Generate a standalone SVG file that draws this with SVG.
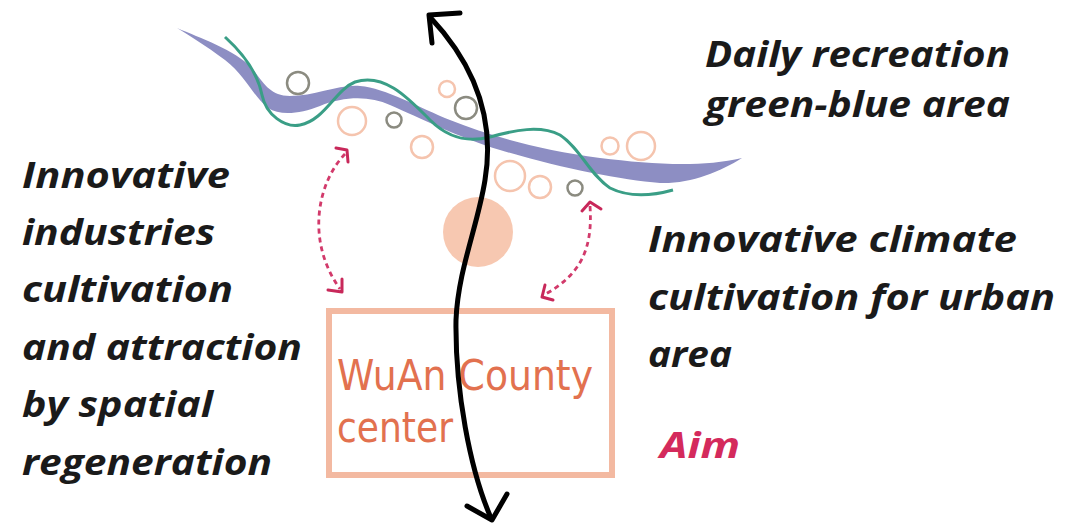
<svg xmlns="http://www.w3.org/2000/svg" width="1081" height="526" viewBox="0 0 1081 526">
<style>
.lbl{font-family:"Open Sans","Liberation Sans",sans-serif;font-style:italic;font-weight:700;font-size:36px;fill:#1a1a1a}
.aim{fill:#d42a5c}
.box{font-family:"DejaVu Sans Condensed","DejaVu Sans","Liberation Sans",sans-serif;font-stretch:condensed;font-size:43px;fill:#e2714f}
.ring-p{fill:none;stroke:#f5c4ae;stroke-width:2.5}
.ring-g{fill:none;stroke:#8b8b80;stroke-width:2.5}
.dash{fill:none;stroke:#d23a6b;stroke-width:2.8;stroke-dasharray:5 4}
.dhead{fill:none;stroke:#c8285a;stroke-width:3;stroke-linecap:round;stroke-linejoin:round}
.axis{fill:none;stroke:#000;stroke-width:5;stroke-linecap:round;stroke-linejoin:round}
</style>
<rect width="1081" height="526" fill="#fff"/>
<g id="river">
<path d="M177,28 C 200,38 235,50 252,68 C 265,85 270,95 290,96 C 315,96 340,84 360,86 C 385,88 420,108 450,120 C 490,136 540,150 600,158 C 650,164 700,168 742,158 C 720,172 690,184 660,183 C 620,180 560,168 500,150 C 460,138 420,118 390,105 C 370,96 345,96 320,106 C 300,114 280,116 268,108 C 252,95 245,75 225,60 C 205,45 190,36 177,28 Z" fill="#8d8ec3"/>
<path d="M225,37 C 245,55 258,75 262,95 C 266,115 285,128 300,125 C 325,120 335,90 355,82 C 385,72 410,100 430,120 C 450,140 470,142 490,137 C 515,130 540,125 560,135 C 580,148 590,175 610,188 C 630,198 655,195 673,190" fill="none" stroke="#3a9e86" stroke-width="3"/>
</g>
<g id="bubbles">
<circle class="ring-g" cx="298" cy="83" r="11"/>
<circle class="ring-p" cx="352" cy="121" r="14"/>
<circle class="ring-g" cx="394" cy="120" r="7.5"/>
<circle class="ring-p" cx="422" cy="147" r="11"/>
<circle class="ring-p" cx="447" cy="89" r="8"/>
<circle class="ring-g" cx="466" cy="108" r="11"/>
<circle class="ring-p" cx="510" cy="176" r="15"/>
<circle class="ring-p" cx="540" cy="187" r="11"/>
<circle class="ring-g" cx="575" cy="188" r="7.5"/>
<circle class="ring-p" cx="610" cy="146" r="8.5"/>
<circle class="ring-p" cx="641" cy="146" r="14"/>
<circle cx="478" cy="232" r="35" fill="#f7c8b1"/>
</g>
<g id="county-center">
<rect x="329" y="311" width="283" height="164" fill="none" stroke="#f3b9a1" stroke-width="6"/>
<text class="box" x="337" y="390" textLength="256" lengthAdjust="spacingAndGlyphs">WuAn County</text>
<text class="box" x="337" y="442" textLength="116" lengthAdjust="spacingAndGlyphs">center</text>
</g>
<g id="connectors">
<path class="dash" d="M345,154 C 318,182 305,240 340,289"/>
<polyline class="dhead" points="336,148 347,150 348,162"/>
<polyline class="dhead" points="342,279 342,292 328,290"/>
<path class="dash" d="M590,206 C 593,250 580,275 544,295"/>
<polyline class="dhead" points="582,211 590,202 601,209"/>
<polyline class="dhead" points="545,285 542,297 553,300"/>
<path class="axis" d="M430,17 C 475,65 495,120 485,180 C 478,225 458,270 456,320 C 455,390 470,470 491,518"/>
<polyline class="axis" points="460,13 429,15 432,43"/>
<polyline class="axis" points="467,506 492,520 507,494"/>
</g>
<g id="label-left">
<text class="lbl" x="22" y="188" textLength="208" lengthAdjust="spacingAndGlyphs">Innovative</text>
<text class="lbl" x="22" y="245" textLength="193" lengthAdjust="spacingAndGlyphs">industries</text>
<text class="lbl" x="22" y="302" textLength="211" lengthAdjust="spacingAndGlyphs">cultivation</text>
<text class="lbl" x="22" y="360" textLength="280" lengthAdjust="spacingAndGlyphs">and attraction</text>
<text class="lbl" x="22" y="417" textLength="191" lengthAdjust="spacingAndGlyphs">by spatial</text>
<text class="lbl" x="22" y="475" textLength="250" lengthAdjust="spacingAndGlyphs">regeneration</text>
</g>
<g id="label-top-right">
<text class="lbl" x="705" y="67" textLength="305" lengthAdjust="spacingAndGlyphs">Daily recreation</text>
<text class="lbl" x="705" y="117" textLength="305" lengthAdjust="spacingAndGlyphs">green-blue area</text>
</g>
<g id="label-right">
<text class="lbl" x="648" y="252" textLength="369" lengthAdjust="spacingAndGlyphs">Innovative climate</text>
<text class="lbl" x="648" y="310" textLength="407" lengthAdjust="spacingAndGlyphs">cultivation for urban</text>
<text class="lbl" x="648" y="367" textLength="84" lengthAdjust="spacingAndGlyphs">area</text>
<text class="lbl aim" x="660" y="458" textLength="80" lengthAdjust="spacingAndGlyphs">Aim</text>
</g>
</svg>
